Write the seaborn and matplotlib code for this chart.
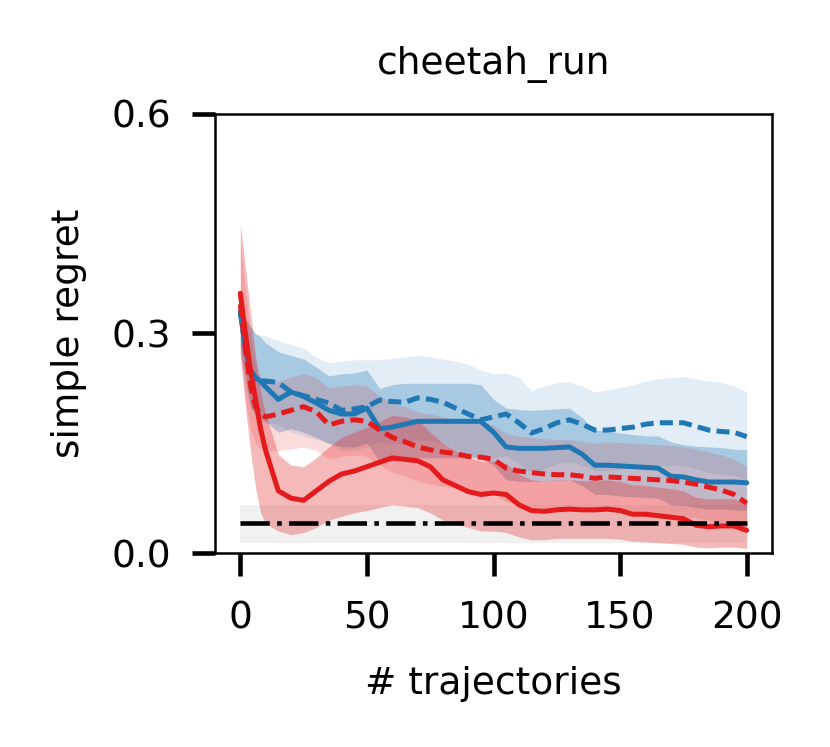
import numpy as np
import pandas as pd
import matplotlib
matplotlib.use("Agg")
import matplotlib.pyplot as plt
import seaborn as sns

# ---------------- data ----------------
steps = [0, 2, 4, 6, 8, 10, 15, 20, 25, 30, 35, 40, 45, 50, 55, 60, 65, 70, 75, 80,
         85, 90, 95, 100, 105, 110, 115, 120, 125, 130, 135, 140, 145, 150, 155, 160,
         165, 170, 175, 180, 185, 190, 195, 200]

blue_solid = [0.33, 0.28, 0.25, 0.24, 0.235, 0.227, 0.21, 0.22, 0.214, 0.205, 0.195, 0.19,
              0.19, 0.198, 0.17, 0.172, 0.176, 0.18, 0.18, 0.18, 0.18, 0.18, 0.18, 0.165,
              0.145, 0.143, 0.143, 0.143, 0.144, 0.145, 0.135, 0.12, 0.12, 0.119, 0.118,
              0.117, 0.116, 0.105, 0.104, 0.1, 0.097, 0.097, 0.097, 0.096]
blue_solid_hi = [0.34, 0.32, 0.31, 0.30, 0.295, 0.287, 0.275, 0.27, 0.265, 0.254, 0.242,
                 0.245, 0.246, 0.25, 0.225, 0.23, 0.232, 0.232, 0.232, 0.232, 0.232, 0.232,
                 0.23, 0.21, 0.198, 0.196, 0.195, 0.196, 0.197, 0.198, 0.185, 0.168, 0.167,
                 0.164, 0.162, 0.16, 0.16, 0.152, 0.148, 0.146, 0.145, 0.144, 0.142, 0.141]
blue_solid_lo = [0.28, 0.24, 0.2, 0.19, 0.185, 0.18, 0.165, 0.17, 0.165, 0.158, 0.15, 0.145,
                 0.145, 0.15, 0.125, 0.125, 0.128, 0.13, 0.13, 0.13, 0.13, 0.13, 0.13, 0.12,
                 0.1, 0.098, 0.098, 0.098, 0.099, 0.1, 0.092, 0.08, 0.08, 0.078, 0.077, 0.076,
                 0.075, 0.066, 0.065, 0.062, 0.06, 0.06, 0.059, 0.058]

blue_dashed = [0.33, 0.28, 0.25, 0.237, 0.236, 0.235, 0.233, 0.22, 0.215, 0.21, 0.205, 0.195,
               0.197, 0.2, 0.209, 0.207, 0.206, 0.212, 0.21, 0.206, 0.198, 0.19, 0.182, 0.186,
               0.19, 0.178, 0.164, 0.17, 0.178, 0.182, 0.176, 0.168, 0.168, 0.17, 0.172,
               0.176, 0.178, 0.178, 0.178, 0.173, 0.168, 0.166, 0.165, 0.159]
blue_dashed_hi = [0.34, 0.32, 0.305, 0.30, 0.298, 0.297, 0.29, 0.285, 0.28, 0.268, 0.26,
                  0.262, 0.264, 0.264, 0.264, 0.266, 0.268, 0.27, 0.268, 0.265, 0.262, 0.258,
                  0.25, 0.245, 0.246, 0.24, 0.222, 0.228, 0.233, 0.234, 0.228, 0.22, 0.223,
                  0.226, 0.23, 0.235, 0.238, 0.24, 0.241, 0.238, 0.235, 0.233, 0.228, 0.22]
blue_dashed_lo = [0.27, 0.23, 0.2, 0.185, 0.18, 0.178, 0.176, 0.165, 0.16, 0.155, 0.15, 0.14,
                  0.14, 0.145, 0.152, 0.15, 0.15, 0.155, 0.153, 0.15, 0.143, 0.135, 0.128,
                  0.13, 0.133, 0.122, 0.11, 0.115, 0.122, 0.125, 0.12, 0.113, 0.113, 0.115,
                  0.117, 0.12, 0.12, 0.12, 0.12, 0.115, 0.11, 0.108, 0.106, 0.1]

red_dashed = [0.34, 0.28, 0.23, 0.2, 0.19, 0.186, 0.19, 0.195, 0.2, 0.193, 0.175, 0.18,
              0.182, 0.18, 0.168, 0.158, 0.152, 0.145, 0.141, 0.138, 0.136, 0.132, 0.131,
              0.128, 0.116, 0.112, 0.11, 0.108, 0.107, 0.107, 0.105, 0.102, 0.104, 0.103,
              0.102, 0.101, 0.1, 0.099, 0.097, 0.094, 0.09, 0.086, 0.08, 0.068]
red_dashed_hi = [0.43, 0.36, 0.30, 0.26, 0.24, 0.235, 0.235, 0.24, 0.245, 0.24, 0.225, 0.228,
                 0.23, 0.228, 0.215, 0.205, 0.2, 0.193, 0.19, 0.186, 0.183, 0.18, 0.178,
                 0.175, 0.163, 0.16, 0.158, 0.156, 0.155, 0.155, 0.153, 0.15, 0.152, 0.151,
                 0.15, 0.149, 0.148, 0.147, 0.145, 0.142, 0.138, 0.134, 0.128, 0.118]
red_dashed_lo = [0.28, 0.21, 0.17, 0.15, 0.142, 0.14, 0.14, 0.142, 0.145, 0.14, 0.128, 0.132,
                 0.134, 0.132, 0.12, 0.11, 0.105, 0.098, 0.094, 0.091, 0.089, 0.085, 0.084,
                 0.082, 0.07, 0.066, 0.064, 0.062, 0.061, 0.061, 0.059, 0.056, 0.058, 0.057,
                 0.056, 0.055, 0.054, 0.053, 0.051, 0.048, 0.045, 0.042, 0.037, 0.028]

red_solid = [0.355, 0.30, 0.25, 0.21, 0.17, 0.14, 0.085, 0.075, 0.072, 0.085, 0.098, 0.108,
             0.112, 0.118, 0.124, 0.13, 0.128, 0.126, 0.118, 0.1, 0.092, 0.084, 0.08, 0.082,
             0.08, 0.066, 0.058, 0.057, 0.059, 0.06, 0.059, 0.059, 0.06, 0.058, 0.053, 0.053,
             0.051, 0.049, 0.047, 0.038, 0.036, 0.037, 0.037, 0.031]
red_solid_hi = [0.45, 0.39, 0.33, 0.27, 0.22, 0.19, 0.135, 0.12, 0.118, 0.13, 0.145, 0.158,
                0.165, 0.172, 0.18, 0.188, 0.186, 0.182, 0.165, 0.15, 0.14, 0.13, 0.126, 0.126,
                0.122, 0.108, 0.1, 0.098, 0.1, 0.1, 0.099, 0.099, 0.1, 0.098, 0.093, 0.092,
                0.09, 0.088, 0.085, 0.076, 0.074, 0.074, 0.074, 0.068]
red_solid_lo = [0.27, 0.2, 0.14, 0.09, 0.055, 0.04, 0.03, 0.025, 0.028, 0.035, 0.045, 0.05,
                0.055, 0.058, 0.062, 0.066, 0.064, 0.062, 0.055, 0.045, 0.04, 0.035, 0.03,
                0.03, 0.028, 0.022, 0.018, 0.018, 0.02, 0.02, 0.02, 0.02, 0.02, 0.019, 0.016,
                0.015, 0.014, 0.013, 0.012, 0.008, 0.007, 0.008, 0.008, 0.006]

reference_level = 0.041
reference_lo = 0.014
reference_hi = 0.066

title = "cheetah_run"
xlabel = "# trajectories"
ylabel = "simple regret"
xticks = [0, 50, 100, 150, 200]
yticks = [0.0, 0.3, 0.6]

# ---------------- plot ----------------
sns.set_style("ticks")
plt.rcParams["font.family"] = ["DejaVu Sans"]
plt.rcParams["text.color"] = "black"
plt.rcParams["axes.labelcolor"] = "black"
plt.rcParams["xtick.color"] = "black"
plt.rcParams["ytick.color"] = "black"
plt.rcParams["axes.edgecolor"] = "black"

BLUE = "#1f77b4"
RED = "#e41a1c"
FS = 9

fig = plt.figure(figsize=(830 / 300, 747 / 300), dpi=300)
ax = fig.add_axes([215 / 830, 1 - 553 / 747, (772 - 215) / 830, (553 - 114) / 747])

# reference band + line
ax.fill_between([steps[0], steps[-1]], [reference_lo] * 2, [reference_hi] * 2,
                color="0.5", alpha=0.11, linewidth=0)

series = [
    ("blue_dashed", blue_dashed, blue_dashed_lo, blue_dashed_hi, BLUE, 0.13, (2.6, 1.25)),
    ("blue_solid", blue_solid, blue_solid_lo, blue_solid_hi, BLUE, 0.30, ""),
    ("red_dashed", red_dashed, red_dashed_lo, red_dashed_hi, RED, 0.15, (2.6, 1.25)),
    ("red_solid", red_solid, red_solid_lo, red_solid_hi, RED, 0.30, ""),
]

for name, m, lo, hi, c, a, d in series:
    ax.fill_between(steps, lo, hi, color=c, alpha=a, linewidth=0)

frames = []
for name, m, lo, hi, c, a, d in series:
    frames.append(pd.DataFrame({"step": steps, "value": m, "series": name}))
df = pd.concat(frames, ignore_index=True)

sns.lineplot(data=df, x="step", y="value", hue="series", style="series",
             palette={s[0]: s[4] for s in series},
             dashes={s[0]: s[6] for s in series},
             linewidth=1.2, legend=False, ax=ax, zorder=3)

ax.plot([steps[0], steps[-1]], [reference_level] * 2, color="black",
        linestyle="-.", linewidth=1.1, zorder=4)

ax.set_xlim(-10, 210)
ax.set_ylim(0, 0.6)
ax.set_xticks(xticks)
ax.set_yticks(yticks)
ax.set_yticklabels(["0.0", "0.3", "0.6"])
ax.tick_params(axis="both", labelsize=FS, length=5.5, width=1.1, pad=5, direction="out",
               colors="black")
ax.tick_params(axis="x", pad=6)
for sp in ax.spines.values():
    sp.set_linewidth(0.6)
    sp.set_visible(True)
    sp.set_color("black")
ax.set_xlabel(xlabel, fontsize=FS, labelpad=7)
ax.set_ylabel(ylabel, fontsize=FS, labelpad=6)
ax.set_title(title, fontsize=FS, pad=9.5)

fig.savefig("out.png", dpi=300)
